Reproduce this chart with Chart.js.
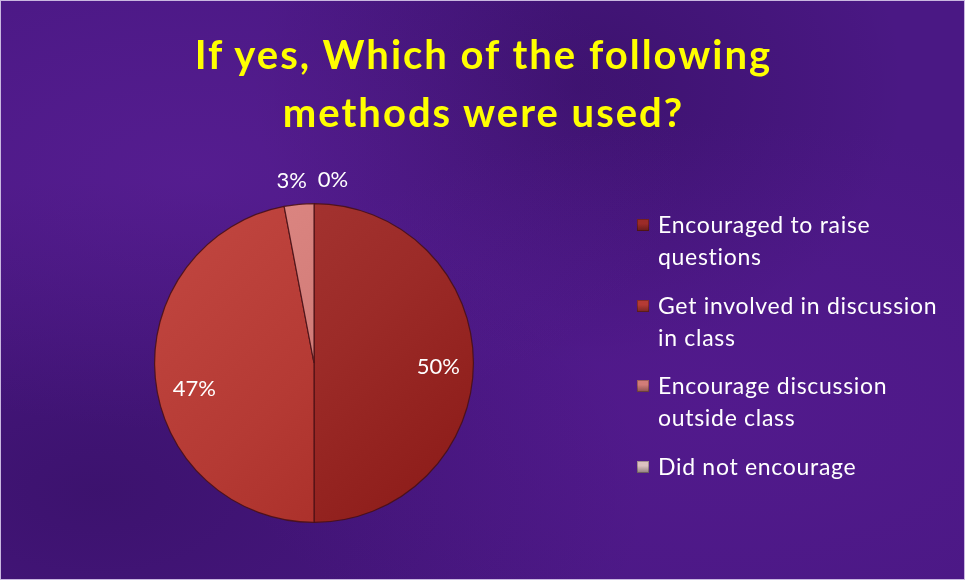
<!DOCTYPE html>
<html>
<head>
<meta charset="utf-8">
<script src="https://cdn.jsdelivr.net/npm/chart.js@4.4.1/dist/chart.umd.min.js"></script>
<style>
  html, body { margin: 0; padding: 0; }
  body {
    width: 965px;
    height: 580px;
    overflow: hidden;
    font-family: Lato, "Open Sans", sans-serif;
  }
  #slide {
    position: relative;
    width: 963px;
    height: 578px;
    border: 1px solid #c9b8e0;
    background:
      radial-gradient(ellipse at 20% 30%, rgba(110, 40, 170, 0.3), transparent 45%),
      radial-gradient(ellipse at 75% 70%, rgba(100, 30, 160, 0.3), transparent 50%),
      radial-gradient(ellipse at 60% 15%, rgba(30, 5, 60, 0.3), transparent 40%),
      radial-gradient(ellipse at 10% 85%, rgba(35, 8, 70, 0.35), transparent 45%),
      #4a1884;
  }
  #title {
    position: absolute;
    left: 0;
    top: 24px;
    width: 965px;
    text-align: center;
    color: #ffff00;
    font-weight: bold;
    font-size: 40px;
    letter-spacing: 2px;
    line-height: 58px;
  }
  #chart-wrap { position: absolute; left: 0; top: 0; width: 965px; height: 580px; }
  #legend {
    position: absolute;
    left: 636px;
    top: 207px;
    width: 325px;
    margin: 0;
    padding: 0;
    list-style: none;
    color: #ffffff;
    font-size: 23px;
    letter-spacing: 0.7px;
    line-height: 32px;
  }
  #legend li { position: relative; padding-left: 21px; margin-bottom: 16.5px; }
  #legend .box {
    position: absolute;
    left: 0;
    top: 11px;
    width: 12px;
    height: 12px;
    box-shadow: inset 0 0 0 1px rgba(0,0,0,0.25);
  }
</style>
</head>
<body>
<div id="slide">
  <div id="chart-wrap"><canvas id="pie" width="965" height="580"></canvas></div>
  <div id="title"></div>
  <ul id="legend"></ul>
</div>
<script>
// data
const titleLines = ["If yes, Which of the following", "methods were used?"];
const labels = [
  "Encouraged to raise questions",
  "Get involved in discussion in class",
  "Encourage discussion outside class",
  "Did not encourage",
];
const values = [50, 47, 3, 0];
const sliceColors = ["#9c2b28", "#b53a34", "#d27c78", "#dcc0c0"];
const legendWraps = [
  ["Encouraged to raise", "questions"],
  ["Get involved in discussion", "in class"],
  ["Encourage discussion", "outside class"],
  ["Did not encourage"],
];

document.getElementById("title").innerHTML = titleLines.join("<br>");

document.getElementById("legend").innerHTML = labels
  .map((l, i) => `<li><span class="box" style="background:linear-gradient(${sliceColors[i]}, ${sliceColors[i]} 40%, rgba(0,0,0,0.35)), ${sliceColors[i]}"></span>${legendWraps[i].join("<br>")}</li>`)
  .join("");

// shading for the slices, lighter toward the upper left
function sliceFill(ctx) {
  const base = sliceColors[ctx.dataIndex];
  const area = ctx.chart.chartArea;
  if (!area) return base;
  const g = ctx.chart.ctx.createLinearGradient(area.left, area.top, area.right, area.bottom);
  g.addColorStop(0, lighten(base, 14));
  g.addColorStop(0.5, base);
  g.addColorStop(1, lighten(base, -18));
  return g;
}

function lighten(hex, amt) {
  const n = parseInt(hex.slice(1), 16);
  const c = [(n >> 16) & 255, (n >> 8) & 255, n & 255].map((v) => Math.max(0, Math.min(255, v + amt)));
  return `rgb(${c[0]},${c[1]},${c[2]})`;
}

// percentage labels: inside for big slices, above the pie for thin ones
const pctLabels = {
  id: "pctLabels",
  afterDatasetsDraw(chart, args, opts) {
    const { ctx } = chart;
    const total = values.reduce((s, v) => s + v, 0);
    ctx.save();
    ctx.fillStyle = "#ffffff";
    ctx.font = "22px Lato, 'Open Sans', sans-serif";
    ctx.textAlign = "center";
    ctx.textBaseline = "middle";
    chart.getDatasetMeta(0).data.forEach((arc, i) => {
      const { x, y, startAngle, endAngle, outerRadius } = arc.getProps(
        ["x", "y", "startAngle", "endAngle", "outerRadius"], true);
      const mid = (startAngle + endAngle) / 2;
      const inside = values[i] / total > 0.1;
      const r = outerRadius * (inside ? 0.78 : 1.15);
      const nudge = opts.nudge[i] || [0, 0];
      const tx = x + Math.cos(mid) * r + nudge[0];
      const ty = y + Math.sin(mid) * r + nudge[1];
      ctx.fillText(Math.round((values[i] / total) * 100) + "%", tx, ty);
    });
    ctx.restore();
  },
};

new Chart(document.getElementById("pie"), {
  type: "pie",
  data: {
    labels,
    datasets: [
      {
        data: values,
        backgroundColor: sliceFill,
        borderColor: "rgba(70,15,20,0.85)",
        borderWidth: 1.2,
      },
    ],
  },
  options: {
    responsive: false,
    animation: false,
    layout: { padding: { left: 153, right: 492, top: 202, bottom: 58 } },
    plugins: {
      legend: { display: false },
      tooltip: { enabled: false },
      pctLabels: { nudge: [[0, 4], [4, 14], [-5, 0], [19, 0]] },
    },
  },
  plugins: [pctLabels],
});
</script>
</body>
</html>
